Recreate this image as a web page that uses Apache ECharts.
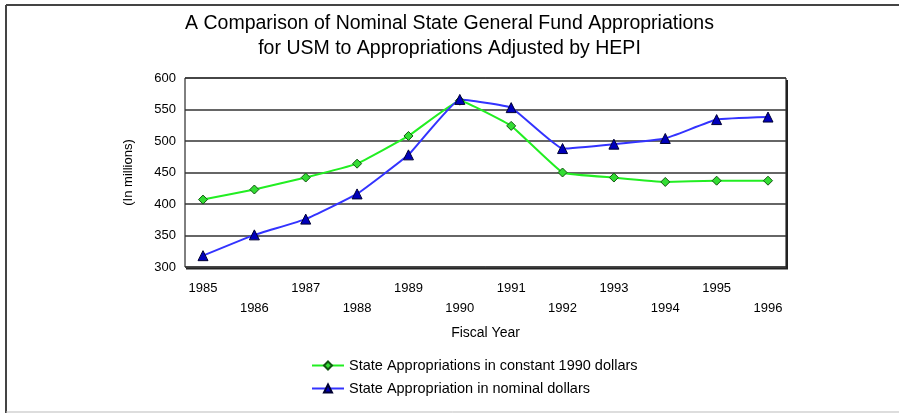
<!DOCTYPE html>
<html lang="en">
<head>
  <meta charset="UTF-8">
  <title>USM Appropriations</title>
  <script src="https://cdn.jsdelivr.net/npm/echarts@6/dist/echarts.min.js"></script>
  <style>
    * {
      margin: 0;
      padding: 0
    }

    html, body {
      width: 100%;
      height: 100%;
      background: #fff;
    }

    #main {
      width: 899px;
      height: 413px;
    }
  </style>
</head>
<body>
  <div id="main"></div>
</body>
<script type="text/javascript">
  // data
  var years = ['1985', '1986', '1987', '1988', '1989', '1990', '1991', '1992', '1993', '1994', '1995', '1996'];
  var constantDollars = [407, 423, 442, 464, 508, 564, 524, 450, 442, 435, 437, 437];
  var nominalDollars = [318, 351, 376, 416, 478, 566, 553, 488, 495, 504, 534, 538];
  var yTicks = {min: 300, max: 600, step: 50};

  var font = 'Liberation Sans, Arial, sans-serif';
  var chart = echarts.init(document.getElementById('main'));
  chart.setOption({
    animation: false,
    title: {
      text: 'A Comparison of Nominal State General Fund Appropriations\nfor USM to Appropriations Adjusted by HEPI',
      left: 'center',
      top: 6,
      textStyle: {fontFamily: font, fontSize: 19.5, fontWeight: 'normal', color: '#000', lineHeight: 25}
    },
    legend: {
      orient: 'vertical',
      left: 306,
      top: 353,
      itemWidth: 32,
      itemHeight: 10,
      itemGap: 8,
      textStyle: {fontFamily: font, fontSize: 14.5, color: '#000'},
      data: ['State Appropriations in constant 1990 dollars', 'State Appropriation in nominal dollars']
    },
    graphic: [
      // outer frame
      {type: 'line', shape: {x1: 6, y1: 5, x2: 899, y2: 5}, style: {stroke: '#444', lineWidth: 2}},
      {type: 'line', shape: {x1: 6, y1: 5, x2: 6, y2: 413}, style: {stroke: '#444', lineWidth: 2}},
      {type: 'line', shape: {x1: 6, y1: 412, x2: 899, y2: 412}, style: {stroke: '#bbb', lineWidth: 1}},
      // plot shadow
      {type: 'polyline', shape: {points: [[787, 80], [787, 268.5], [186, 268.5]]}, style: {stroke: '#222', lineWidth: 2, fill: null}}
    ],
    grid: [
      {left: 185, top: 78, width: 601, height: 189, show: true, borderColor: '#000', borderWidth: 1},
      {left: 203, top: 78, width: 565, height: 189}
    ],
    xAxis: [
      {gridIndex: 0, type: 'value', min: 0, max: 1, show: false},
      {
        gridIndex: 1,
        type: 'category',
        data: years,
        boundaryGap: false,
        axisLine: {show: false},
        axisTick: {show: false},
        axisLabel: {
          interval: 0,
          margin: 11,
          fontFamily: font,
          fontSize: 13,
          color: '#000',
          lineHeight: 20,
          formatter: function (v, i) {
            return i % 2 ? '\n' + v : v;
          }
        },
        name: 'Fiscal Year',
        nameLocation: 'middle',
        nameGap: 59,
        nameTextStyle: {fontFamily: font, fontSize: 14, color: '#000'}
      }
    ],
    yAxis: [
      {
        gridIndex: 0,
        type: 'value',
        min: yTicks.min,
        max: yTicks.max,
        interval: yTicks.step,
        axisLine: {show: false},
        axisTick: {show: false},
        axisLabel: {fontFamily: font, fontSize: 13, color: '#000', margin: 9},
        splitLine: {lineStyle: {color: '#333', width: 1.5}},
        name: '(In millions)',
        nameLocation: 'middle',
        nameGap: 50,
        nameRotate: 90,
        nameTextStyle: {fontFamily: font, fontSize: 13, color: '#000'}
      },
      {gridIndex: 1, type: 'value', min: yTicks.min, max: yTicks.max, show: false}
    ],
    series: [
      {
        name: 'State Appropriations in constant 1990 dollars',
        type: 'line',
        xAxisIndex: 1,
        yAxisIndex: 1,
        data: constantDollars,
        smooth: 0.1,
        symbol: 'diamond',
        symbolSize: 9,
        lineStyle: {color: '#22ee22', width: 2},
        itemStyle: {color: '#33dd33', borderColor: '#115511', borderWidth: 1}
      },
      {
        name: 'State Appropriation in nominal dollars',
        type: 'line',
        xAxisIndex: 1,
        yAxisIndex: 1,
        data: nominalDollars,
        smooth: 0.1,
        symbol: 'triangle',
        symbolSize: 10,
        lineStyle: {color: '#3333ff', width: 2},
        itemStyle: {color: '#0000bb', borderColor: '#000033', borderWidth: 1}
      }
    ]
  });
</script>
</html>
